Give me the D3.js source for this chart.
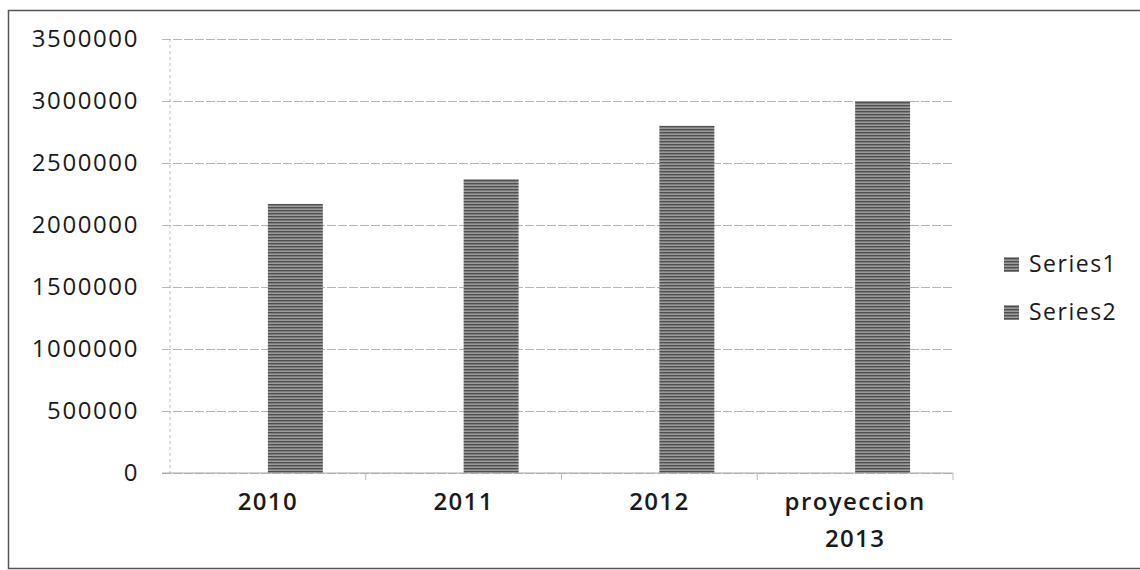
<!DOCTYPE html>
<html>
<head>
<meta charset="utf-8">
<script src="https://cdn.jsdelivr.net/npm/d3@7"></script>
<style>
    body { margin: 0; background: #fff; }
    text { font-family: "Open Sans", sans-serif; fill: #1a1a1a; }
</style>
</head>
<body>
<div id="chart"></div>
<script>
const categories = ['2010', '2011', '2012', 'proyeccion\n2013'];
const seriesNames = ['Series1', 'Series2'];
const series1 = [0, 0, 0, 0];
const series2 = [2170000, 2370000, 2800000, 3000000];
const yTicks = [0, 500000, 1000000, 1500000, 2000000, 2500000, 3000000, 3500000];

const W = 1140, H = 570;
const margin = {top: 39, right: 187, bottom: 97, left: 170};
const width = W - margin.left - margin.right;
const height = H - margin.top - margin.bottom;

const data = categories.map((c, i) => ({cat: c, values: [series1[i], series2[i]]}));

const svg = d3.select('#chart').append('svg')
    .attr('width', W)
    .attr('height', H);

// bar texture, looks like the scanned hatch
const defs = svg.append('defs');
const pat = defs.append('pattern')
    .attr('id', 'hatch')
    .attr('patternUnits', 'userSpaceOnUse')
    .attr('width', 6)
    .attr('height', 3);
pat.append('rect').attr('width', 6).attr('height', 3).attr('fill', '#9a9a9a');
pat.append('rect').attr('width', 6).attr('height', 1.4).attr('fill', '#505050');

// outer chart border
svg.append('rect')
    .attr('x', 8.5).attr('y', 10.5)
    .attr('width', W).attr('height', 558)
    .attr('fill', 'none')
    .attr('stroke', '#555')
    .attr('stroke-width', 1.5);

const g = svg.append('g')
    .attr('transform', `translate(${margin.left}, ${margin.top})`);

const x = d3.scaleBand()
    .domain(categories)
    .range([0, width]);

const x1 = d3.scaleBand()
    .domain(seriesNames)
    .range([0, x.bandwidth()])
    .paddingOuter(0.78);

const y = d3.scaleLinear()
    .domain([0, 3500000])
    .range([height, 0]);

// gridlines
g.append('g')
    .attr('class', 'grid')
    .attr('transform', 'translate(-8, 0)')
    .call(d3.axisRight(y).tickValues(yTicks).tickSize(width + 8).tickFormat(''))
    .call(s => s.select('.domain').remove())
    .call(s => s.selectAll('line').attr('stroke', '#b4b4b4').attr('stroke-dasharray', '9,2'));

// y labels
g.append('g')
    .call(d3.axisLeft(y).tickValues(yTicks).tickSize(0).tickPadding(31).tickFormat(d3.format('d')))
    .call(s => s.select('.domain').remove())
    .call(s => s.selectAll('text')
        .style('font-size', '24px')
        .style('letter-spacing', '1.6px')
        .attr('fill', '#1a1a1a'));

// vertical axis line
g.append('line')
    .attr('x1', 0).attr('x2', 0)
    .attr('y1', 0).attr('y2', height)
    .attr('stroke', '#bbb')
    .attr('stroke-dasharray', '3,3');

// bars
const groups = g.selectAll('.cat')
    .data(data)
    .enter()
    .append('g')
    .attr('class', 'cat')
    .attr('transform', d => `translate(${x(d.cat)}, 0)`);

groups.selectAll('rect')
    .data(d => d.values.map((v, i) => ({name: seriesNames[i], value: v})))
    .enter()
    .append('rect')
    .attr('x', d => x1(d.name))
    .attr('y', d => y(d.value))
    .attr('width', x1.bandwidth())
    .attr('height', d => height - y(d.value))
    .attr('fill', 'url(#hatch)');

// x axis line and category ticks
g.append('line')
    .attr('x1', -8).attr('x2', width)
    .attr('y1', height).attr('y2', height)
    .attr('stroke', '#aaa');

const bounds = categories.map(c => x(c)).concat([width]);
g.selectAll('.xtick')
    .data(bounds.slice(1))
    .enter()
    .append('line')
    .attr('class', 'xtick')
    .attr('x1', d => d).attr('x2', d => d)
    .attr('y1', height).attr('y2', height + 7)
    .attr('stroke', '#bbb');

// x labels
const xl = g.selectAll('.xlabel')
    .data(categories)
    .enter()
    .append('text')
    .attr('class', 'xlabel')
    .attr('x', d => x(d) + x.bandwidth() / 2)
    .attr('y', height + 37)
    .attr('text-anchor', 'middle')
    .style('font-size', '24px')
    .style('font-weight', 600)
    .style('letter-spacing', '1.4px');

xl.selectAll('tspan')
    .data(d => d.split('\n'))
    .enter()
    .append('tspan')
    .attr('x', function() { return d3.select(this.parentNode).attr('x'); })
    .attr('dy', (d, i) => i === 0 ? 0 : 37)
    .text(d => d);

// legend
const legend = svg.append('g')
    .attr('transform', 'translate(1004, 264)');

const li = legend.selectAll('.leg')
    .data(seriesNames)
    .enter()
    .append('g')
    .attr('class', 'leg')
    .attr('transform', (d, i) => `translate(0, ${i * 48})`);

li.append('rect')
    .attr('x', 0).attr('y', -7)
    .attr('width', 15).attr('height', 15)
    .attr('fill', 'url(#hatch)');

li.append('text')
    .attr('x', 25)
    .attr('dy', '0.36em')
    .style('font-size', '23px')
    .style('letter-spacing', '1.5px')
    .text(d => d);
</script>
</body>
</html>
